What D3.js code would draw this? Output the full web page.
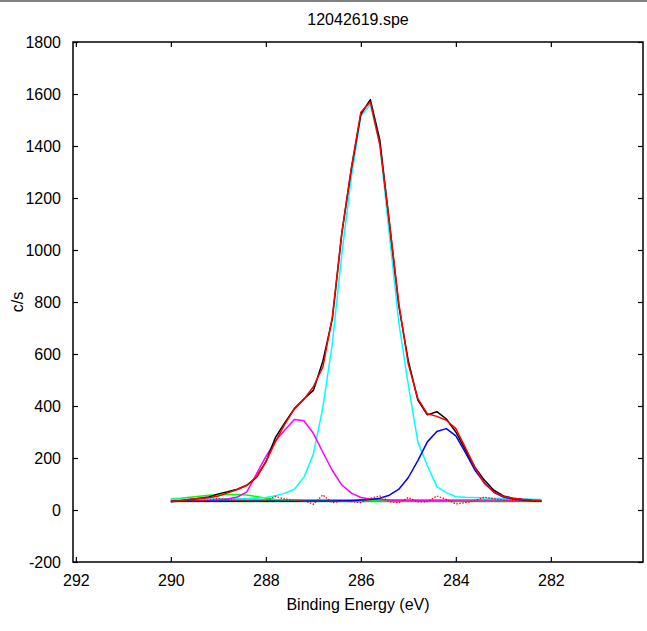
<!DOCTYPE html>
<html>
<head>
<meta charset="utf-8">
<script src="https://cdn.jsdelivr.net/npm/d3@7/dist/d3.min.js"></script>
<style>
  html, body { margin: 0; padding: 0; background: #fff; }
  svg text { font-family: "Liberation Sans", Arial, sans-serif; fill: #000; }
</style>
</head>
<body>
<svg id="chart" width="647" height="631"></svg>
<script>
// binding energy of each channel (eV)
var energy = [290.0, 289.8, 289.6, 289.4, 289.2, 289.0, 288.8, 288.6, 288.4, 288.2,
              288.0, 287.8, 287.6, 287.4, 287.2, 287.0, 286.8, 286.6, 286.4, 286.2,
              286.0, 285.8, 285.6, 285.4, 285.2, 285.0, 284.8, 284.6, 284.4, 284.2,
              284.0, 283.8, 283.6, 283.4, 283.2, 283.0, 282.8, 282.6, 282.4, 282.2];

// measured spectrum (black)
var raw = [32, 36, 40, 45, 50, 62, 70, 80, 95, 125,
           185, 278, 336, 390, 427, 460, 572, 735, 1065, 1312,
           1522, 1578, 1422, 1105, 785, 572, 423, 366, 378, 350,
           300, 232, 165, 115, 76, 54, 45, 40, 37, 35];

// fit envelope (red)
var fit = [34, 36, 41, 44, 47, 54, 66, 79, 95, 127,
           185, 262, 330, 388, 425, 474, 550, 743, 1067, 1316,
           1530, 1569, 1404, 1109, 793, 560, 428, 370, 360, 345,
           313, 240, 165, 102, 69, 52, 45, 41, 38, 37];

// components
var peakCyan = [41, 41, 41, 42, 42, 42, 43, 43, 44, 45,
                48, 55, 65, 80, 125, 215, 395, 640, 985, 1280,
                1515, 1560, 1405, 1060, 720, 480, 262, 170, 90, 67,
                51, 49, 48, 46, 45, 44, 43, 42, 41, 40];

var peakMagenta = [33, 34, 34, 35, 36, 38, 42, 50, 70, 138,
                   205, 265, 308, 348, 343, 295, 222, 152, 96, 65,
                   48, 42, 40, 38, 37, 37, 36, 36, 36, 36,
                   35, 35, 35, 35, 35, 35, 35, 35, 35, 35];

var peakBlue = [34, 34, 34, 34, 34, 34, 34, 34, 34, 34,
                34, 34, 34, 34, 35, 35, 35, 35, 36, 36,
                38, 40, 45, 57, 80, 125, 190, 262, 302, 313,
                285, 222, 154, 105, 68, 50, 42, 38, 36, 35];

var peakGreen = [42, 45, 49, 53, 57, 59, 60, 60, 58, 52,
                 45, 40, 38, 37, 36, 36, 36, 36, 36, 36,
                 36, 36, 36, 36, 36, 36, 36, 36, 36, 36,
                 36, 36, 36, 36, 36, 36, 36, 36, 36, 36];

var background = [36, 36, 36, 36, 36, 36, 36, 36, 36, 36,
                  36, 36, 36, 36, 36, 36, 36, 36, 36, 36,
                  36, 36, 36, 36, 36, 36, 36, 36, 36, 36,
                  36, 36, 36, 36, 36, 36, 36, 36, 36, 36];

// residual (dotted red), drawn around the background
var residual = [34, 36, 35, 37, 38, 44, 40, 37, 36, 34,
                36, 52, 42, 38, 36, 22, 58, 28, 34, 32,
                28, 45, 54, 32, 28, 48, 31, 32, 54, 41,
                23, 28, 36, 49, 43, 38, 36, 35, 35, 34];

var xTicks = [292, 290, 288, 286, 284, 282];
var yTicks = [-200, 0, 200, 400, 600, 800, 1000, 1200, 1400, 1600, 1800];

var margin = {top: 42, right: 4, bottom: 69, left: 73};
var W = 647, H = 631;
var width = W - margin.left - margin.right;
var height = H - margin.top - margin.bottom;

var svg = d3.select("#chart");

// grey strip along the top of the figure window
svg.append("line")
  .attr("x1", 0).attr("x2", W)
  .attr("y1", 1).attr("y2", 1)
  .attr("stroke", "#808080")
  .attr("stroke-width", 2);

var g = svg.append("g")
  .attr("transform", "translate(" + margin.left + "," + margin.top + ")");

var x = d3.scaleLinear().domain([292.06, 280.06]).range([0, width]);
var y = d3.scaleLinear().domain([-200, 1800]).range([height, 0]);

var plain = function(d) { return String(d); };

function styleAxis(sel) {
  sel.select(".domain").remove();
  sel.selectAll(".tick line").attr("stroke", "#000").attr("stroke-width", 1.2);
  sel.selectAll(".tick text")
    .attr("font-size", 16)
    .attr("font-family", "'Liberation Sans', Arial, sans-serif")
    .attr("fill", "#000");
}

// bottom axis, ticks pointing in
g.append("g")
  .attr("transform", "translate(0," + height + ")")
  .call(d3.axisBottom(x).tickValues(xTicks).tickFormat(plain).tickSizeInner(-5).tickSizeOuter(0).tickPadding(13))
  .call(styleAxis);

// top axis, ticks only
g.append("g")
  .call(d3.axisTop(x).tickValues(xTicks).tickSizeInner(-5).tickSizeOuter(0).tickFormat(""))
  .call(styleAxis);

// left axis
g.append("g")
  .call(d3.axisLeft(y).tickValues(yTicks).tickFormat(plain).tickSizeInner(-5).tickSizeOuter(0).tickPadding(12))
  .call(styleAxis);

// right axis, ticks only
g.append("g")
  .attr("transform", "translate(" + width + ",0)")
  .call(d3.axisRight(y).tickValues(yTicks).tickSizeInner(-5).tickSizeOuter(0).tickFormat(""))
  .call(styleAxis);

// frame
g.append("rect")
  .attr("x", 0).attr("y", 0)
  .attr("width", width).attr("height", height)
  .attr("fill", "none")
  .attr("stroke", "#000")
  .attr("stroke-width", 1.5);

function drawSeries(values, color, w, dash) {
  var line = d3.line()
    .x(function(d, i) { return x(energy[i]); })
    .y(function(d) { return y(d); });
  var p = g.append("path")
    .datum(values)
    .attr("fill", "none")
    .attr("stroke", color)
    .attr("stroke-width", w)
    .attr("stroke-linejoin", "round")
    .attr("d", line);
  if (dash) p.attr("stroke-dasharray", dash);
  return p;
}

drawSeries(background, "#22b022", 3);
drawSeries(peakGreen, "#00ff00", 1.5);
drawSeries(peakCyan, "#00ffff", 1.5);
drawSeries(peakMagenta, "#ff00ff", 1.5);
drawSeries(peakBlue, "#0000ff", 1.5);
drawSeries(raw, "#000000", 1.5);
drawSeries(fit, "#ff0000", 1.5);
drawSeries(residual, "#ff0000", 1.3, "1.5,1.5");

// title and axis labels
svg.append("text")
  .attr("x", margin.left + width / 2)
  .attr("y", 25)
  .attr("text-anchor", "middle")
  .attr("font-size", 16)
  .text("12042619.spe");

svg.append("text")
  .attr("x", margin.left + width / 2)
  .attr("y", 610)
  .attr("text-anchor", "middle")
  .attr("font-size", 16)
  .text("Binding Energy (eV)");

svg.append("text")
  .attr("transform", "translate(23," + (margin.top + height / 2) + ") rotate(-90)")
  .attr("text-anchor", "middle")
  .attr("font-size", 16)
  .text("c/s");
</script>
</body>
</html>
